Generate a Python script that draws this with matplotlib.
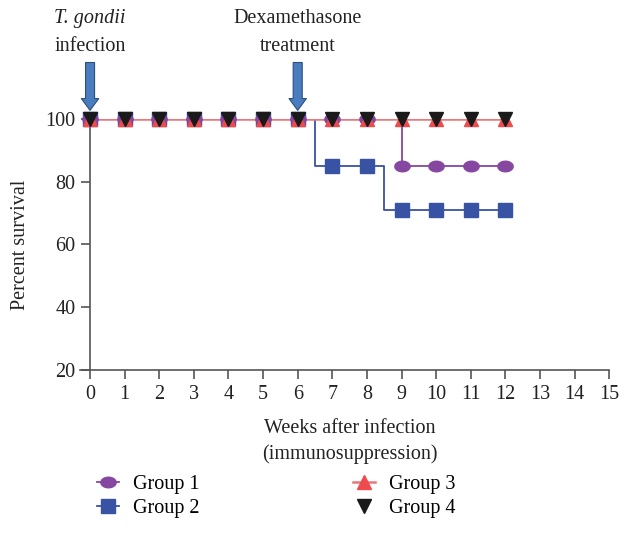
import numpy as np
import matplotlib
matplotlib.use("Agg")
import matplotlib.pyplot as plt
from matplotlib.path import Path
from matplotlib.lines import Line2D

plt.rcParams['font.family'] = ['Liberation Serif', 'DejaVu Serif']

weeks = list(range(0, 13))

# step curves: times where survival changes, and the survival from that time on
g1_times = [0, 9, 12]
g1_surv = [100, 85, 85]
g2_times = [0, 6.5, 8.5, 12]
g2_surv = [100, 85, 71, 71]
g3_times = [0, 12]
g3_surv = [100, 100]

# marker values at each week
g1_marks = [100] * 9 + [85, 85, 85, 85]
g2_marks = [100] * 7 + [85, 85, 71, 71, 71, 71]
g3_marks = [100] * 13
g4_marks = [100] * 13

xticks = list(range(0, 16))
yticks = [20, 40, 60, 80, 100]

purple = "#8647a0"
blue = "#3953a4"
red = "#ee4b4f"
red_line = "#e8787c"
txt = '#222222'
fs = 14.5

# ellipse marker, wider than tall
t = np.linspace(0, 2 * np.pi, 60)
ellipse = Path(np.column_stack([np.cos(t) * 1.45, np.sin(t)]), closed=True)

fig = plt.figure(figsize=(6.21, 5.5), dpi=100)
ax = fig.add_axes([0.145, 0.327, 0.836, 0.457])

ax.step(g1_times, g1_surv, where='post', color=purple, lw=1.3, zorder=2)
ax.step(g2_times, g2_surv, where='post', color=blue, lw=1.3, zorder=2)
ax.step(g3_times, g3_surv, where='post', color=red_line, lw=1.8, zorder=2)

ax.plot(weeks, g2_marks, ls='none', marker='s', ms=10.5, color=blue, clip_on=False, zorder=3)
ax.plot(weeks, g1_marks, ls='none', marker=ellipse, ms=11, color=purple, clip_on=False, zorder=3)
ax.plot(weeks, g3_marks, ls='none', marker='^', ms=10.5, color=red, clip_on=False, zorder=4)
ax.plot(weeks, g4_marks, ls='none', marker='v', ms=10.5, color='#1a1a1a', clip_on=False, zorder=5)

ax.set_xlim(0, 15)
ax.set_ylim(20, 100)
ax.set_xticks(xticks)
ax.set_yticks(yticks)
for s in ['top', 'right']:
    ax.spines[s].set_visible(False)
for s in ['left', 'bottom']:
    ax.spines[s].set_color('#555555')
    ax.spines[s].set_linewidth(1.2)
ax.spines['bottom'].set_bounds(-0.3, 15)
ax.tick_params(axis='both', colors='#555555', labelcolor=txt, labelsize=fs,
               length=6.5, width=1.2, direction='out')
ax.tick_params(axis='y', pad=4)
ax.tick_params(axis='x', pad=4)
ax.set_xlabel("Weeks after infection\n(immunosuppression)", fontsize=fs,
              color=txt, labelpad=11, linespacing=1.45)
ax.set_ylabel("Percent survival", fontsize=fs, color=txt, labelpad=11)

# arrows and notes
for xa in [0, 6]:
    ax.annotate("", xy=(xa, 101.8), xytext=(xa, 118.8), xycoords='data',
                arrowprops=dict(arrowstyle='simple,head_length=0.85,head_width=1.25,tail_width=0.65',
                                fc='#4a7cc0', ec='#2d4f7c', lw=0.8),
                annotation_clip=False, zorder=6)
ax.text(0, 132, "T. gondii", style='italic', ha='center', va='center', fontsize=fs, color=txt)
ax.text(0, 123, "infection", ha='center', va='center', fontsize=fs, color=txt)
ax.text(6, 132, "Dexamethasone", ha='center', va='center', fontsize=fs, color=txt)
ax.text(6, 123, "treatment", ha='center', va='center', fontsize=fs, color=txt)

handles = [
    Line2D([], [], color=purple, lw=1.3, marker=ellipse, ms=11),
    Line2D([], [], color=blue, lw=1.3, marker='s', ms=10.5),
    Line2D([], [], color=red_line, lw=1.8, marker='^', ms=10.5, markerfacecolor=red, markeredgecolor=red),
    Line2D([], [], ls='none', color='#1a1a1a', marker='v', ms=10.5),
]
labels = ["Group 1", "Group 2", "Group 3", "Group 4"]
fig.legend(handles, labels, ncol=2, loc='upper left', bbox_to_anchor=(0.156, 0.136),
           frameon=False, fontsize=fs, handlelength=1.1, columnspacing=7.6,
           labelspacing=0.25, handletextpad=0.7, borderaxespad=0, borderpad=0)

fig.savefig("out.png", dpi=100)
